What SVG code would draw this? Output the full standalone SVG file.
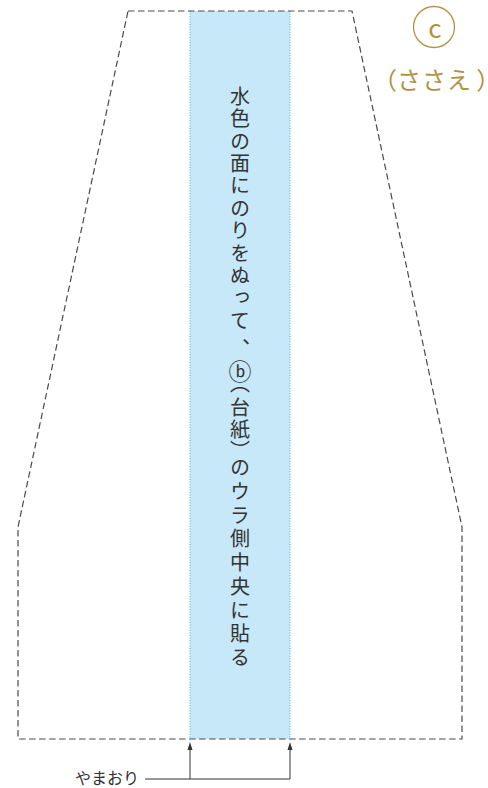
<svg xmlns="http://www.w3.org/2000/svg" width="488" height="788" viewBox="0 0 488 788">
<style>
.outline{fill:none;stroke:#4a4a4a;stroke-width:1.2;stroke-dasharray:6.5 3.5}
.band{fill:#c7e8f8}
.bandedge{stroke:#3ab6ea;stroke-width:1;stroke-dasharray:1 1.6}
.main{font-family:"Noto Sans CJK JP","Noto Sans",sans-serif;font-size:20px;fill:#333;writing-mode:vertical-rl;letter-spacing:2.35px}
.gold{font-family:"Noto Sans CJK JP","Noto Sans",sans-serif;fill:#b0923f}
.lbl{font-family:"Noto Sans CJK JP","Noto Sans",sans-serif;font-size:16px;fill:#333}
.lead{fill:none;stroke:#333;stroke-width:1}
.head{fill:#333}
</style>
<g id="band">
<rect class="band" x="190" y="11" width="100" height="728"/>
<line class="bandedge" x1="190" y1="11" x2="190" y2="739"/>
<line class="bandedge" x1="290" y1="11" x2="290" y2="739"/>
</g>
<g id="outline">
<path class="outline" d="M128,11 L352,11 L462,527 L462,739 L18,739 L18,527 Z"/>
</g>
<g id="instruction">
<text class="main" x="240" y="86.5">水色の面にのりをぬっ<tspan letter-spacing="8.6">て</tspan><tspan letter-spacing="0.9">、</tspan><tspan font-size="23" letter-spacing="-8.9">ⓑ</tspan><tspan letter-spacing="3.9">（</tspan><tspan letter-spacing="1.5">台紙</tspan><tspan letter-spacing="-3.5">）</tspan><tspan letter-spacing="3.75">のウラ側中央に貼る</tspan></text>
</g>
<g id="part-c">
<circle cx="434" cy="27" r="20.5" fill="none" stroke="#b0923f" stroke-width="1.3"/>
<text class="gold" x="435" y="37.5" font-size="26" text-anchor="middle">c</text>
<text class="gold" font-size="24" y="89"><tspan x="373">（</tspan><tspan x="397" letter-spacing="1">ささえ</tspan><tspan x="477" style="font-feature-settings:'palt'">）</tspan></text>
</g>
<g id="label-yamaori">
<text class="lbl" x="75" y="784">やまおり</text>
</g>
<g id="connectors">
<path class="lead" d="M145,779 L290,779"/>
<line class="lead" x1="190" y1="779" x2="190" y2="748"/>
<line class="lead" x1="290" y1="779" x2="290" y2="748"/>
<polygon class="head" points="190,742 187.5,750 192.5,750"/>
<polygon class="head" points="290,742 287.5,750 292.5,750"/>
</g>
</svg>
